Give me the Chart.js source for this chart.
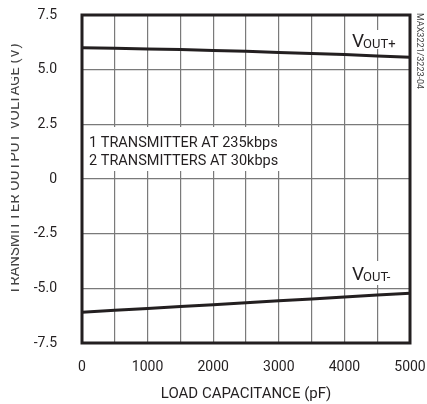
<!DOCTYPE html>
<html>
<head>
<meta charset="utf-8">
<script src="https://cdn.jsdelivr.net/npm/chart.js@4"></script>
<style>
  html, body { margin: 0; padding: 0; background: #fff; }
  #wrap { width: 427px; height: 404px; }
</style>
</head>
<body>
<div id="wrap"><canvas id="chart" width="427" height="404"></canvas></div>
<script>
// valores
const loads = [0, 500, 1000, 1500, 2000, 2500, 3000, 3500, 4000, 4500, 5000];
const voutPos = [6.00, 5.98, 5.95, 5.92, 5.88, 5.84, 5.79, 5.74, 5.69, 5.63, 5.57];
const voutNeg = [-6.09, -6.00, -5.92, -5.83, -5.75, -5.66, -5.57, -5.49, -5.40, -5.31, -5.23];
const yTickLabels = { '-7.5': '-7.5', '-5': '-5.0', '-2.5': '-2.5', '0': '0', '2.5': '2.5', '5': '5.0', '7.5': '7.5' };
const noteLines = ['1 TRANSMITTER AT 235kbps', '2 TRANSMITTERS AT 30kbps'];

const INK = '#231f20';
const GRID = '#7a7a7a';
const FONT = 'Roboto, "Liberation Sans", sans-serif';

function pts(ys) {
    return loads.map(function (x, i) { return { x: x, y: ys[i] }; });
}

// caixas brancas + textos por cima da grade
const annotations = {
    id: 'annotations',
    beforeDatasetsDraw: function (chart) {
        const ctx = chart.ctx;
        const a = chart.chartArea;
        ctx.save();
        ctx.fillStyle = '#fff';
        ctx.fillRect(a.left + 2, 127, 199, 44);
        ctx.fillRect(350, 30, 50, 19);
        ctx.fillRect(348, 261, 50, 24);

        ctx.fillStyle = INK;
        ctx.font = '14.5px ' + FONT;
        ctx.textBaseline = 'alphabetic';
        ctx.textAlign = 'left';
        ctx.fillText(noteLines[0], 89, 147);
        ctx.fillText(noteLines[1], 89, 165);

        function vout(x, y, sign) {
            ctx.font = '19px ' + FONT;
            ctx.fillText('V', x, y);
            const w = ctx.measureText('V').width;
            ctx.font = '13px ' + FONT;
            ctx.fillText('OUT' + sign, x + w - 1, y + 1);
        }
        vout(352, 47, '+');
        vout(352, 280, '-');
        ctx.restore();
    },
    afterDraw: function (chart) {
        const ctx = chart.ctx;
        const a = chart.chartArea;
        ctx.save();
        // moldura grossa
        ctx.strokeStyle = INK;
        ctx.lineWidth = 3;
        ctx.strokeRect(a.left, a.top, a.right - a.left, a.bottom - a.top);

        // título do eixo y (cortado na borda da imagem)
        ctx.beginPath();
        ctx.rect(11, 0, 427, 404);
        ctx.clip();
        ctx.translate(18.5, 169);
        ctx.rotate(-Math.PI / 2);
        ctx.fillStyle = '#444';
        ctx.font = '15px ' + FONT;
        ctx.textAlign = 'center';
        ctx.textBaseline = 'alphabetic';
        ctx.fillText('TRANSMITTER OUTPUT VOLTAGE (V)', 0, 0);
        ctx.restore();

        // código da figura
        ctx.save();
        ctx.translate(419, 51);
        ctx.rotate(Math.PI / 2);
        ctx.fillStyle = '#444';
        ctx.font = '9px ' + FONT;
        ctx.textAlign = 'center';
        ctx.textBaseline = 'middle';
        ctx.fillText('MAX3221/3223-04', 0, 0);
        ctx.restore();
    }
};

const ctx = document.getElementById('chart').getContext('2d');
window._chart = new Chart(ctx, {
    type: 'line',
    data: {
        datasets: [
            { label: 'VOUT+', data: pts(voutPos), borderColor: INK, borderWidth: 3, pointRadius: 0, tension: 0 },
            { label: 'VOUT-', data: pts(voutNeg), borderColor: INK, borderWidth: 3, pointRadius: 0, tension: 0 }
        ]
    },
    options: {
        responsive: false,
        animation: false,
        devicePixelRatio: 1,
        layout: { padding: { left: 0, right: 17, top: 15, bottom: 0 } },
        plugins: { legend: { display: false }, tooltip: { enabled: false } },
        scales: {
            x: {
                type: 'linear',
                min: 0, max: 5000,
                afterFit: function (s) { s.height = 61; },
                // tick invisível só para afastar os rótulos
                grid: { color: GRID, lineWidth: 1.2, drawTicks: true, tickLength: 16, tickColor: 'rgba(0,0,0,0)' },
                border: { display: false },
                ticks: {
                    stepSize: 500, padding: 0, maxRotation: 0, autoSkip: false,
                    color: INK, font: { family: FONT, size: 14 },
                    callback: function (v) { return v % 1000 === 0 ? String(v) : ''; }
                },
                title: {
                    display: true, text: 'LOAD CAPACITANCE (pF)', color: INK,
                    font: { family: FONT, size: 15 }, padding: { top: 0, bottom: 1 }
                }
            },
            y: {
                min: -7.5, max: 7.5,
                afterFit: function (s) { s.width = 82; },
                grid: { color: GRID, lineWidth: 1.2, drawTicks: true, tickLength: 25, tickColor: 'rgba(0,0,0,0)' },
                border: { display: false },
                ticks: {
                    stepSize: 2.5, padding: 0,
                    color: INK, font: { family: FONT, size: 14 },
                    callback: function (v) { return yTickLabels[String(v)] !== undefined ? yTickLabels[String(v)] : v; }
                }
            }
        }
    },
    plugins: [annotations]
});
</script>
</body>
</html>
